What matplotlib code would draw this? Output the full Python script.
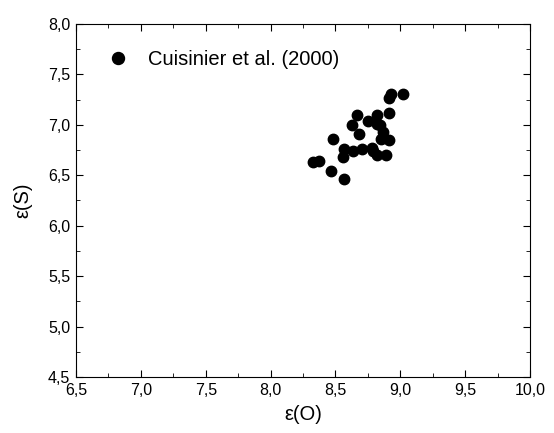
import matplotlib
matplotlib.use('Agg')
import matplotlib.pyplot as plt
from matplotlib.ticker import MultipleLocator, FuncFormatter

plt.rcParams['font.family'] = ['Liberation Sans', 'DejaVu Sans']

# Cuisinier et al. (2000)
eps_o = [8.926, 8.913, 9.019, 8.664, 8.818, 8.916, 8.626, 8.749, 8.818, 8.844,
         8.685, 8.865, 8.849, 8.916, 8.484, 8.566, 8.633, 8.705, 8.780, 8.788,
         8.818, 8.890, 8.556, 8.325, 8.376, 8.464, 8.566]
eps_s = [7.305, 7.262, 7.305, 7.097, 7.097, 7.116, 6.997, 7.034, 7.004, 6.997,
         6.908, 6.928, 6.862, 6.846, 6.862, 6.757, 6.743, 6.757, 6.773, 6.743,
         6.703, 6.697, 6.683, 6.628, 6.638, 6.539, 6.465]

def comma(x, _):
    return f"{x:.1f}".replace('.', ',')

fig = plt.figure(figsize=(5.54, 4.33), dpi=100)
ax = fig.add_axes([0.137, 0.129, 0.820, 0.816])

ax.plot(eps_o, eps_s, 'o', color='black', markersize=7.5, label='Cuisinier et al. (2000)')

ax.set_xlim(6.5, 10.0)
ax.set_ylim(4.5, 8.0)
ax.xaxis.set_major_locator(MultipleLocator(0.5))
ax.xaxis.set_minor_locator(MultipleLocator(0.25))
ax.yaxis.set_major_locator(MultipleLocator(0.5))
ax.yaxis.set_minor_locator(MultipleLocator(0.25))
ax.xaxis.set_major_formatter(FuncFormatter(comma))
ax.yaxis.set_major_formatter(FuncFormatter(comma))
ax.tick_params(which='both', direction='in', top=True, right=True, labelsize=11.5)
ax.tick_params(which='major', length=5, pad=4)
ax.tick_params(which='minor', length=3)

ax.set_xlabel('ε(O)', fontsize=14.5, labelpad=5)
ax.set_ylabel('ε(S)', fontsize=14.5, labelpad=11)

ax.legend(loc='upper left', frameon=False, fontsize=14.5, handletextpad=0.5,
          borderaxespad=0, bbox_to_anchor=(0.031, 0.949), markerscale=1.15)

fig.savefig('out.png', dpi=100)
